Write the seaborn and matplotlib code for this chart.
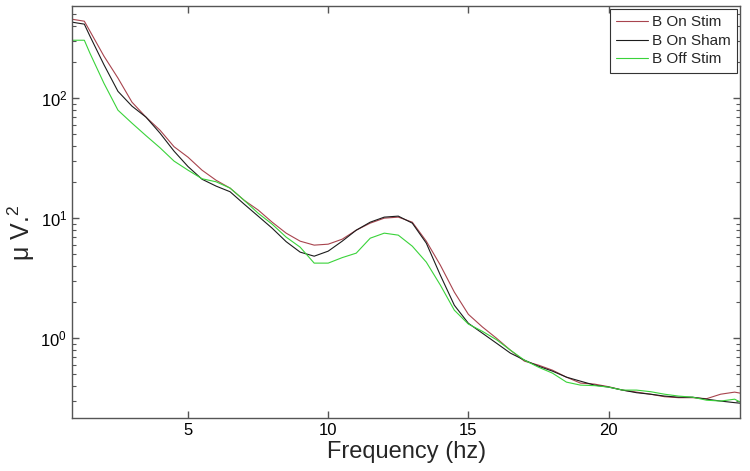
import numpy as np
import pandas as pd
import matplotlib
matplotlib.use('Agg')
import matplotlib.pyplot as plt
import seaborn as sns

# Frequency grid (hz)
freq = [0.86, 1.3, 1.5, 2.0, 2.5, 3.0, 3.5, 4.0, 4.5, 5.0, 5.5, 6.0, 6.5, 7.0, 7.5,
        8.0, 8.5, 9.0, 9.5, 10.0, 10.5, 11.0, 11.5, 12.0, 12.5, 13.0, 13.5, 14.0,
        14.5, 15.0, 15.5, 16.0, 16.5, 17.0, 17.5, 18.0, 18.5, 19.0, 19.5, 20.0,
        20.5, 21.0, 21.5, 22.0, 22.5, 23.0, 23.5, 24.0, 24.5, 24.7]

# Power (uV^2), estimated from the log axis
on_stim = [455, 438, 362, 224, 147, 92.6, 69.5, 54.1, 39.4, 32.2, 25.1, 20.7, 17.8,
           14.1, 11.7, 9.26, 7.50, 6.43, 5.96, 6.07, 6.68, 7.94, 9.09, 10.0, 10.2,
           9.26, 6.43, 4.06, 2.42, 1.58, 1.24, 1.00, 0.794, 0.643, 0.596, 0.541,
           0.473, 0.422, 0.414, 0.394, 0.369, 0.355, 0.341, 0.325, 0.319, 0.319,
           0.313, 0.341, 0.355, 0.348]
on_sham = [430, 414, 329, 190, 114, 85.8, 69.5, 51.1, 36.2, 26.9, 21.1, 18.5, 16.6,
           13.1, 10.4, 8.25, 6.37, 5.21, 4.82, 5.31, 6.43, 7.94, 9.26, 10.2, 10.4,
           9.09, 6.19, 3.35, 1.88, 1.33, 1.10, 0.909, 0.750, 0.656, 0.584, 0.531,
           0.473, 0.438, 0.406, 0.391, 0.369, 0.351, 0.341, 0.329, 0.322, 0.322,
           0.310, 0.299, 0.290, 0.287]
off_stim = [304, 304, 237, 133, 79.4, 61.9, 48.7, 38.6, 29.9, 25.1, 21.3, 20.1, 17.8,
            14.1, 11.0, 8.91, 6.95, 5.73, 4.22, 4.22, 4.69, 5.11, 6.81, 7.50, 7.22,
            5.84, 4.30, 2.77, 1.71, 1.31, 1.14, 0.972, 0.794, 0.656, 0.573, 0.511,
            0.430, 0.406, 0.402, 0.391, 0.369, 0.369, 0.358, 0.341, 0.329, 0.322,
            0.304, 0.299, 0.310, 0.293]

series_names = ['B On Stim', 'B On Sham', 'B Off Stim']
series_colors = ['#a8444e', '#1c1c1c', '#3ad33a']

df = pd.concat([
    pd.DataFrame({'freq': freq, 'power': vals, 'series': name})
    for name, vals in zip(series_names, [on_stim, on_sham, off_stim])
])

sns.set_style('ticks')
plt.rcParams['font.family'] = ['Liberation Sans', 'DejaVu Sans']
plt.rcParams['mathtext.fontset'] = 'custom'
plt.rcParams['mathtext.rm'] = 'Liberation Sans'

fig, ax = plt.subplots(figsize=(7.5, 4.71), dpi=100)
fig.subplots_adjust(left=0.096, right=0.987, top=0.987, bottom=0.112)

sns.lineplot(data=df, x='freq', y='power', hue='series', hue_order=series_names,
             palette=series_colors, linewidth=0.8, ax=ax, sort=False)

ax.set_yscale('log')
ax.set_xlim(0.86, 24.7)
ax.set_ylim(0.215, 585)
ax.set_xticks([5, 10, 15, 20])

ax.tick_params(axis='both', which='both', direction='in', top=True, right=True,
               labelsize=12, colors='#555555', labelcolor='black')
ax.tick_params(which='major', length=5, width=1)
ax.tick_params(which='minor', length=3, width=0.8)
for s in ax.spines.values():
    s.set_color('#555555')
    s.set_linewidth(1.0)

ax.set_xlabel('Frequency (hz)', fontsize=17, labelpad=2)
ax.set_ylabel('μ V.$^{\\mathregular{2}}$', fontsize=18)
ax.yaxis.set_label_coords(-0.052, 0.45)

leg = ax.legend(loc='upper right', fontsize=11, handlelength=2.1, handletextpad=0.3,
                labelspacing=0.3, borderaxespad=0.2, fancybox=False, framealpha=1,
                borderpad=0.4)
leg.get_frame().set_edgecolor('#333333')
leg.get_frame().set_linewidth(0.8)
for line in leg.get_lines():
    line.set_linewidth(0.8)

plt.savefig('out.png', dpi=100)
plt.close()
